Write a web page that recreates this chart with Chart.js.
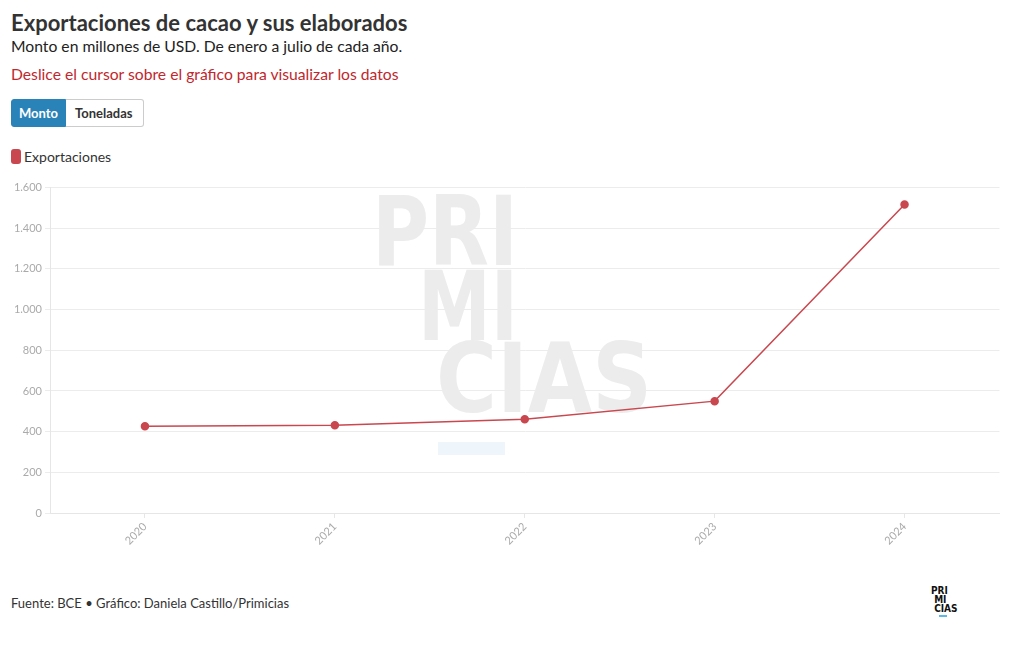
<!DOCTYPE html>
<html lang="es">
<head>
    <meta charset="UTF-8">
    <title>Exportaciones de cacao y sus elaborados</title>
    <script src="https://cdn.jsdelivr.net/npm/chart.js"></script>
    <style>
        body {
            margin: 0;
            background: #fff;
            font-family: Lato, "Noto Sans", sans-serif;
            color: #333;
        }
        .wrap {
            position: relative;
            width: 1020px;
            height: 650px;
        }
        h1 {
            position: absolute;
            left: 11px;
            top: 9px;
            margin: 0;
            font-size: 22px;
            font-weight: 700;
            color: #333;
        }
        .sub {
            position: absolute;
            left: 11px;
            top: 37px;
            font-size: 15.7px;
            color: #222;
        }
        .hint {
            position: absolute;
            left: 11px;
            top: 65px;
            font-size: 15.7px;
            color: #c1272d;
        }
        .btns {
            position: absolute;
            left: 11px;
            top: 99px;
            display: flex;
        }
        .btns span {
            height: 26px;
            line-height: 26px;
            font-size: 13px;
            font-weight: 700;
            border: 1px solid #ccc;
        }
        .btns .on {
            padding: 0 7px;
            background: #2a83b8;
            color: #fff;
            border-color: #2a83b8;
            border-radius: 3px 0 0 3px;
        }
        .btns .off {
            padding: 0 10px 0 9px;
            background: #fff;
            color: #333;
            border-left: none;
            border-radius: 0 3px 3px 0;
        }
        .legend {
            position: absolute;
            left: 11px;
            top: 148px;
            font-size: 14px;
            color: #333;
            display: flex;
            align-items: center;
        }
        .legend i {
            display: inline-block;
            width: 10px;
            height: 15px;
            border-radius: 3px;
            background: #c9474f;
            margin-right: 3px;
        }
        .chart-box {
            position: absolute;
            left: 0;
            top: 178px;
            width: 1005px;
            height: 382px;
        }
        .foot {
            position: absolute;
            left: 11px;
            top: 595px;
            font-size: 13px;
            color: #333;
        }
        .logo {
            position: absolute;
            left: 931px;
            top: 586px;
            font: 700 10px/9px "DejaVu Sans Condensed", "DejaVu Sans", sans-serif;
            color: #111;
        }
        .logo div { white-space: pre; }
        .logo b {
            display: block;
            width: 8px;
            height: 2px;
            margin: 2px 0 0 8px;
            background: #5bb8e8;
        }
    </style>
</head>
<body>
<div class="wrap">
    <h1>Exportaciones de cacao y sus elaborados</h1>
    <div class="sub">Monto en millones de USD. De enero a julio de cada año.</div>
    <div class="hint">Deslice el cursor sobre el gráfico para visualizar los datos</div>
    <div class="btns"><span class="on">Monto</span><span class="off">Toneladas</span></div>
    <div class="legend"><i></i>Exportaciones</div>
    <div class="chart-box"><canvas id="grafico"></canvas></div>
    <div class="foot">Fuente: BCE • Gráfico: Daniela Castillo/Primicias</div>
    <div class="logo"><div>PRI</div><div> MI</div><div> CIAS</div><b></b></div>
</div>

<script>
    // Datos
    var anios = ['2020', '2021', '2022', '2023', '2024'];
    var exportaciones = [427, 432, 461, 550, 1517];
    var yTicks = [0, 200, 400, 600, 800, 1000, 1200, 1400, 1600];

    var rojo = '#c9474f';
    var gris = '#aaa';
    var top0 = 178; // posición del canvas en la página

    // Marca de agua de fondo
    var marcaAgua = {
        id: 'marcaAgua',
        beforeDatasetsDraw: function(chart) {
            var c = chart.ctx;
            c.save();
            c.fillStyle = '#eef5fb';
            c.fillRect(438, 442 - top0, 67, 13);
            c.fillStyle = '#ececec';
            c.font = '700 96px "DejaVu Sans Condensed", "DejaVu Sans", sans-serif';
            c.textBaseline = 'alphabetic';
            c.textAlign = 'left';
            c.fillText('PRI', 372, 265 - top0, 146);
            c.fillText('MI', 418, 340 - top0, 100);
            c.fillText('CIAS', 436, 412 - top0, 216);
            c.restore();
        }
    };

    var ctx = document.getElementById('grafico').getContext('2d');
    var grafico = new Chart(ctx, {
        type: 'line',
        data: {
            labels: anios,
            datasets: [{
                label: 'Exportaciones',
                data: exportaciones,
                borderColor: rojo,
                backgroundColor: rojo,
                borderWidth: 1.5,
                pointRadius: 3.5,
                pointHoverRadius: 4,
                tension: 0,
                fill: false
            }]
        },
        options: {
            responsive: true,
            maintainAspectRatio: false,
            animation: false,
            layout: { padding: { top: 5, right: 0, left: 0, bottom: 0 } },
            scales: {
                x: {
                    offset: true,
                    grid: {
                        drawOnChartArea: false,
                        drawTicks: true,
                        tickLength: 5,
                        color: '#e6e6e6'
                    },
                    border: { color: '#e6e6e6' },
                    ticks: {
                        color: gris,
                        font: { family: 'Lato, "Noto Sans", sans-serif', size: 11 },
                        minRotation: 45,
                        maxRotation: 45,
                        padding: 2
                    },
                    afterFit: function(scale) { scale.height = 47; }
                },
                y: {
                    min: 0,
                    max: 1600,
                    afterBuildTicks: function(scale) {
                        scale.ticks = yTicks.map(function(v) { return { value: v }; });
                    },
                    grid: {
                        color: '#ececec',
                        tickLength: 5
                    },
                    border: { color: '#e6e6e6' },
                    ticks: {
                        color: gris,
                        font: { family: 'Lato, "Noto Sans", sans-serif', size: 11 },
                        padding: 3,
                        callback: function(v) { return v.toLocaleString('es-ES', { useGrouping: true }).replace(/\s/g, '.'); }
                    },
                    afterFit: function(scale) { scale.width = 50; }
                }
            },
            plugins: {
                legend: { display: false },
                tooltip: { enabled: false }
            }
        },
        plugins: [marcaAgua]
    });
</script>
</body>
</html>
